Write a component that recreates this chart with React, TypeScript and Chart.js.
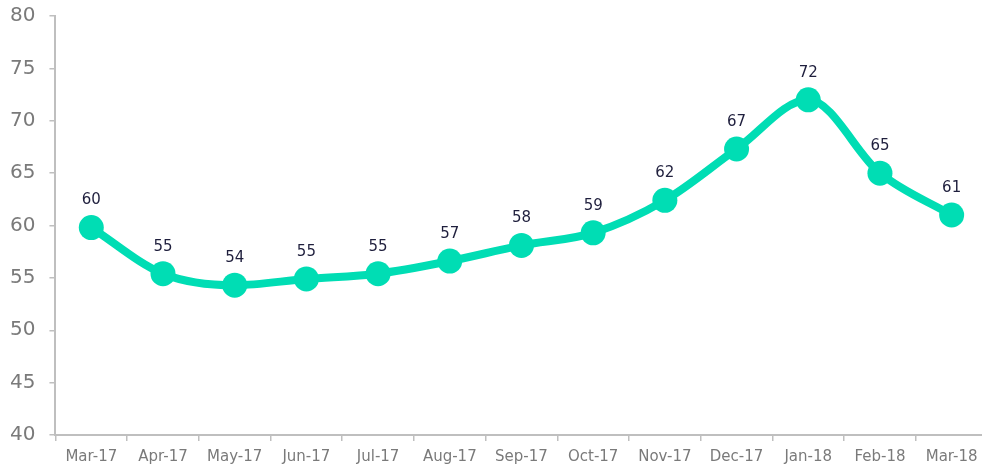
import React, { useEffect, useRef } from "react";
import { Chart, registerables } from "chart.js";

Chart.register(...registerables);

const categories = ["Mar-17", "Apr-17", "May-17", "Jun-17", "Jul-17", "Aug-17", "Sep-17", "Oct-17", "Nov-17", "Dec-17", "Jan-18", "Feb-18", "Mar-18"];
const values = [59.8, 55.4, 54.3, 54.9, 55.4, 56.6, 58.1, 59.3, 62.4, 67.3, 72.0, 65.0, 61.0];
const yTicks = [40, 45, 50, 55, 60, 65, 70, 75, 80];

const LINE = "#00DDB4";
const FONT = "'DejaVu Sans', 'Open Sans', sans-serif";

const labelPlugin = {
  id: "valueLabels",
  afterDatasetsDraw(chart: any) {
    const ctx = chart.ctx;
    const meta = chart.getDatasetMeta(0);
    ctx.save();
    ctx.font = `15px ${FONT}`;
    ctx.fillStyle = "#1f1f3d";
    ctx.textAlign = "center";
    ctx.textBaseline = "middle";
    meta.data.forEach((el: any, i: number) => {
      ctx.fillText(String(Math.round(values[i])), el.x, el.y - 27);
    });
    ctx.restore();
  },
};

export default function App() {
  const ref = useRef<HTMLCanvasElement>(null);
  useEffect(() => {
    if (!ref.current) return;
    const chart = new Chart(ref.current, {
      type: "line",
      data: {
        labels: categories,
        datasets: [
          {
            data: values,
            borderColor: LINE,
            backgroundColor: LINE,
            borderWidth: 8,
            pointRadius: 12.5,
            pointHoverRadius: 12.5,
            pointBackgroundColor: LINE,
            pointBorderWidth: 0,
            cubicInterpolationMode: "monotone",
            clip: false as any,
          },
        ],
      },
      options: {
        responsive: false,
        animation: false,
        layout: { padding: { left: 8, right: 3, top: 5, bottom: 2 } },
        plugins: { legend: { display: false }, tooltip: { enabled: false } },
        scales: {
          x: {
            offset: true,
            grid: {
              offset: true,
              drawOnChartArea: false,
              drawTicks: true,
              tickLength: 6,
              color: "#bfbfbf",
              lineWidth: 1.5,
            },
            border: { color: "#bfbfbf", width: 2 },
            ticks: {
              color: "#7a7a7a",
              font: { family: FONT, size: 15 },
              padding: 7,
              maxRotation: 0,
              autoSkip: false,
            },
          },
          y: {
            min: 40,
            max: 80,
            afterBuildTicks: (scale: any) => {
              scale.ticks = yTicks.map((v) => ({ value: v }));
            },
            grid: {
              drawOnChartArea: false,
              drawTicks: true,
              tickLength: 6,
              color: "#bfbfbf",
              lineWidth: 1.5,
            },
            border: { color: "#bfbfbf", width: 2 },
            ticks: {
              color: "#7a7a7a",
              font: { family: FONT, size: 20 },
              padding: 14,
            },
          },
        },
      },
      plugins: [labelPlugin],
    });
    return () => chart.destroy();
  }, []);
  return (
    <div style={{ position: "fixed", left: 0, top: 0, width: 982, height: 465, overflow: "hidden", background: "#fff" }}>
      <canvas
        ref={ref}
        width={1012}
        height={485}
        style={{ display: "block", position: "absolute", left: -12, top: -10 }}
      />
    </div>
  );
}
